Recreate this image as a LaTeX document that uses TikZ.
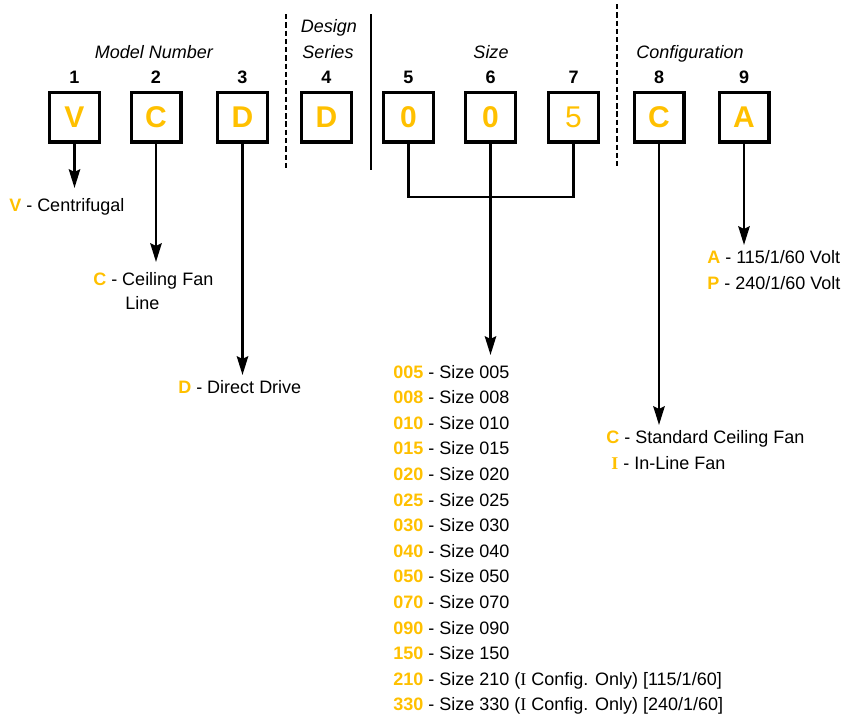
\documentclass[tikz,border=0pt]{standalone}
\usepackage{fontspec}
\setmainfont{Liberation Sans}
\newfontfamily\serifI{Liberation Serif}
\usetikzlibrary{arrows.meta}
\definecolor{codeorange}{HTML}{FFC000}
\begin{document}
\begin{tikzpicture}[x=0.75pt,y=-0.75pt,
  digitbox/.style={draw, line width=2.5pt, minimum size=37.25pt, inner sep=0pt,
    font=\fontsize{22.5}{24}\selectfont\bfseries, text=codeorange},
  posnum/.style={font=\fontsize{13.5}{16}\selectfont\bfseries, anchor=base, inner sep=0pt},
  grouplabel/.style={font=\fontsize{13.5}{16}\selectfont\itshape, anchor=base, inner sep=0pt},
  desc/.style={font=\fontsize{13.5}{16}\selectfont, anchor=base west, inner sep=0pt},
  stem/.style={line width=2pt},
  stemarrow/.style={line width=2pt, -{Stealth[length=14pt,width=8.5pt,inset=2pt]}},
  sepdash/.style={line width=1.5pt, dash pattern=on 4pt off 2.2pt},
  sepsolid/.style={line width=1.5pt},
]
\useasboundingbox (0,0) rectangle (846,721);

% group labels
\node[grouplabel] (gModel) at (154,58) {Model Number};
\node[grouplabel] (gDesign) at (329,32) {Design};
\node[grouplabel] (gSeries) at (328,58) {Series};
\node[grouplabel] (gSize) at (491,58) {Size};
\node[grouplabel] (gConfig) at (690,58) {Configuration};

% separators
\coordinate (d1t) at (286,14); \coordinate (d1b) at (286,170);
\coordinate (s1t) at (371,14); \coordinate (s1b) at (371,170);
\coordinate (d2t) at (617,4);  \coordinate (d2b) at (617,168);
\draw[sepdash] (d1t) -- (d1b);
\draw[sepsolid] (s1t) -- (s1b);
\draw[sepdash] (d2t) -- (d2b);

% position numbers and boxes
\foreach \n/\x/\l in {1/74.5/V, 2/156/C, 3/242.5/D, 4/326.5/D, 5/408.5/0, 6/490.5/0, 8/659/C, 9/744/A}{
  \node[posnum] (n\n) at (\x,83) {\n};
  \node[digitbox] (b\n) at (\x,117) {\l};
}
\node[posnum] (n7) at (573.5,83) {7};
\node[digitbox, font=\fontsize{22.5}{24}\selectfont] (b7) at (573.5,117) {5};

% arrow tips
\coordinate (t1) at (74.5,188);
\coordinate (t2) at (156,262);
\coordinate (t3) at (242.5,375);
\coordinate (tS) at (490.5,355);
\coordinate (t8) at (659,425);
\coordinate (t9) at (744,245);
\coordinate (j) at (490.5,197);

\draw[stemarrow] (b1.south) -- (t1);
\draw[stemarrow] (b2.south) -- (t2);
\draw[stemarrow] (b3.south) -- (t3);
\draw[stemarrow] (b8.south) -- (t8);
\draw[stemarrow] (b9.south) -- (t9);
\draw[stem] (b5.south) -- (b5.south |- j) -- (b7.south |- j) -- (b7.south);
\draw[stemarrow] (b6.south) -- (tS);

% descriptions
\node[desc] (dV) at (9,211) {{\color{codeorange}\bfseries V} - Centrifugal};
\node[desc] (dC) at (93,285) {{\color{codeorange}\bfseries C} - Ceiling Fan};
\node[desc] (dCl) at (125,309) {Line};
\node[desc] (dD) at (178,393) {{\color{codeorange}\bfseries D} - Direct Drive};

\node[desc] (dA) at (707,263) {{\color{codeorange}\bfseries A} - 115/1/60 Volt};
\node[desc] (dP) at (707,289) {{\color{codeorange}\bfseries P} - 240/1/60 Volt};

\node[desc] (dCs) at (606,443) {{\color{codeorange}\bfseries C} - Standard Ceiling Fan};
\node[desc] (dI) at (611,469) {{\color{codeorange}\serifI\bfseries I} - In-Line Fan};

% size list
\foreach \c [count=\i from 0] in {005,008,010,015,020,025,030,040,050,070,090,150}{
  \node[desc] (s\i) at (393,378+25.6*\i) {{\color{codeorange}\bfseries \c} - Size \c};
}
\node[desc] (s12) at (393,685.2) {{\color{codeorange}\bfseries 210} - Size 210 ({\serifI I} Config. Only) [115/1/60]};
\node[desc] (s13) at (393,710.8) {{\color{codeorange}\bfseries 330} - Size 330 ({\serifI I} Config. Only) [240/1/60]};
\end{tikzpicture}
\end{document}
